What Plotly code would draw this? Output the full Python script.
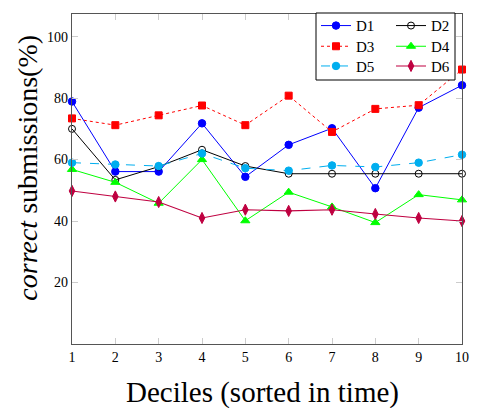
import plotly.graph_objects as go

# Data
# ----
deciles = [1, 2, 3, 4, 5, 6, 7, 8, 9, 10]
d1 = [78.9, 56.1, 56.1, 71.8, 54.4, 64.8, 70.2, 50.7, 76.9, 84.2]
d2 = [70.0, 53.4, 57.7, 63.2, 57.9, 55.4, 55.4, 55.4, 55.4, 55.4]
d3 = [73.4, 71.2, 74.4, 77.6, 71.2, 80.8, 69.0, 76.5, 77.7, 89.3]
d4 = [56.8, 52.6, 45.8, 60.0, 40.1, 49.4, 44.6, 39.5, 48.6, 46.9]
d5 = [59.0, 58.4, 57.9, 62.0, 57.2, 56.4, 58.1, 57.6, 59.0, 61.6]
d6 = [49.8, 48.0, 46.2, 41.0, 43.7, 43.3, 43.7, 42.3, 41.0, 40.0]
y_ticks = [20, 40, 60, 80, 100]

FONT = '"Liberation Serif", "DejaVu Serif", serif'

# the page body adds an 8px margin, so the figure is a bit smaller than the window
W, H = 470, 400
M_L, M_R, M_T, M_B = 64, 16, 1, 64
plot_w = W - M_L - M_R
plot_h = H - M_T - M_B


def px(fx):
    return (fx - M_L) / plot_w


def py(fy):
    return 1 - (fy - M_T) / plot_h


series = [
    # name, values, colour, dash, symbol, marker size, legend row
    ('D1', d1, 'rgb(0,0,255)', 'solid', 'circle', 7.5, 'legend'),
    ('D2', d2, 'black', 'solid', 'circle-open', 7, 'legend'),
    ('D3', d3, 'rgb(255,0,0)', 'dot', 'square', 7, 'legend2'),
    ('D4', d4, 'rgb(0,255,0)', 'solid', 'triangle-up', 8, 'legend2'),
    ('D5', d5, 'rgb(0,174,239)', 'dash', 'circle', 7.5, 'legend3'),
    ('D6', d6, 'rgb(191,0,64)', 'solid', 'diamond-tall', 8, 'legend3'),
]

fig = go.Figure()
for name, vals, col, dash, sym, size, leg in series:
    fig.add_trace(go.Scatter(
        x=deciles, y=vals, name=name, mode='lines+markers',
        line=dict(color=col, width=1.1 if name == 'D6' else 1, dash=dash),
        marker=dict(symbol=sym, size=size, color=col,
                    line=dict(width=1, color=col)),
        legend=leg, cliponaxis=False,
    ))

axis_common = dict(
    showline=True, linecolor='#555', linewidth=1.3, mirror='allticks',
    ticks='inside', ticklen=6, tickcolor='#ccc', showgrid=False,
    zeroline=False, tickfont=dict(family=FONT, size=14, color='black'),
    ticklabeloverflow='allow',
)


def row_legend(fig_y):
    # one horizontal legend per row of the two-column legend box
    return dict(orientation='h', x=px(308), y=py(fig_y),
                xanchor='left', yanchor='middle', bgcolor='rgba(0,0,0,0)',
                font=dict(family=FONT, size=15), itemwidth=30,
                entrywidth=30, entrywidthmode='pixels')


fig.update_layout(
    width=W, height=H,
    margin=dict(l=M_L, r=M_R, t=M_T, b=M_B),
    plot_bgcolor='white', paper_bgcolor='white',
    font=dict(family=FONT, color='black'),
    xaxis=dict(range=[1, 10], tickvals=deciles, **axis_common),
    yaxis=dict(range=[0, (336 - M_T) / 3.12], tickvals=y_ticks,
               **axis_common),
    legend=row_legend(13),
    legend2=row_legend(34),
    legend3=row_legend(54),
    shapes=[dict(type='rect', xref='paper', yref='paper',
                 x0=px(308), x1=px(447), y0=py(68), y1=py(0),
                 line=dict(color='black', width=1), fillcolor='white',
                 layer='above')],
    annotations=[
        dict(text='Deciles (sorted in time)', xref='paper', yref='paper',
             x=px(254), y=py(385), xanchor='center', yanchor='middle',
             showarrow=False, font=dict(family=FONT, size=29)),
        dict(text='<i>correct</i> submissions(%)', xref='paper',
             yref='paper', x=px(20), y=py(157), xanchor='center',
             yanchor='middle', textangle=-90, showarrow=False,
             font=dict(family=FONT, size=28)),
    ],
)

fig.write_html("out.html")
